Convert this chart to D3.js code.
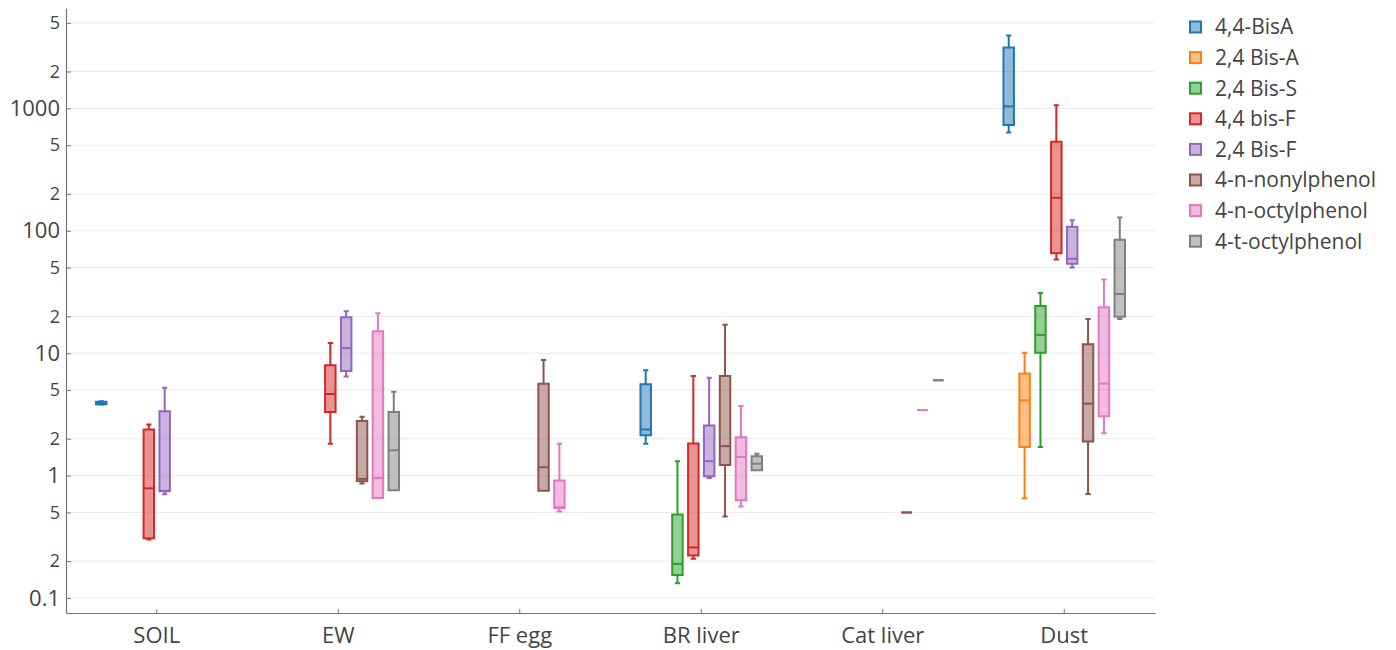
<!DOCTYPE html>
<html>
<head>
<meta charset="utf-8">
<script src="https://cdn.jsdelivr.net/npm/d3@7"></script>
<style>
  html, body { margin: 0; padding: 0; background: #fff; }
  svg { display: block; font-family: "Open Sans", "Noto Sans", sans-serif; }
</style>
</head>
<body>
<svg id="chart" width="1396" height="650"></svg>
<script>
// ---- data ----
const categories = ["SOIL", "EW", "FF egg", "BR liver", "Cat liver", "Dust"];
const seriesNames = ["4,4-BisA", "2,4 Bis-A", "2,4 Bis-S", "4,4 bis-F", "2,4 Bis-F", "4-n-nonylphenol", "4-n-octylphenol", "4-t-octylphenol"];

// each entry: [min, q1, median, q3, max] per category (null = no data)
const bisA44 = [[3.8, 3.83, 3.9, 4.02, 4.05], null, null, [1.82, 2.14, 2.38, 5.57, 7.26], null, [636, 730, 1038, 3143, 3945]];
const bisA24 = [null, null, null, null, null, [0.652, 1.71, 4.12, 6.82, 10.06]];
const bisS24 = [null, null, null, [0.132, 0.154, 0.19, 0.482, 1.31], null, [1.71, 10.1, 14.1, 24.3, 31.0]];
const bisF44 = [[0.30, 0.308, 0.787, 2.38, 2.62], [1.82, 3.30, 4.64, 7.97, 12.1], null, [0.209, 0.222, 0.259, 1.83, 6.52], null, [58.2, 65.6, 186, 533, 1059]];
const bisF24 = [[0.703, 0.744, 0.75, 3.35, 5.23], [6.44, 7.16, 11.0, 19.7, 22.0], null, [0.957, 0.987, 1.31, 2.57, 6.31], null, [50, 53.7, 59, 108, 122]];
const nonylN = [null, [0.86, 0.898, 0.94, 2.79, 3.03], [0.753, 0.753, 1.17, 5.64, 8.81], [0.464, 1.22, 1.74, 6.52, 17.1], [0.5, 0.5, 0.5, 0.5, 0.5], [0.708, 1.90, 3.87, 11.85, 19.0]];
const octylN = [null, [0.656, 0.656, 0.957, 15.1, 21.2], [0.51, 0.543, 0.55, 0.91, 1.82], [0.56, 0.628, 1.42, 2.06, 3.70], [3.43, 3.43, 3.43, 3.43, 3.43], [2.22, 3.06, 5.64, 23.7, 39.9]];
const octylT = [null, [0.758, 0.758, 1.61, 3.30, 4.85], null, [1.105, 1.105, 1.25, 1.44, 1.51], [6.0, 6.0, 6.0, 6.0, 6.0], [19.0, 19.8, 30.5, 84.4, 128.5]];

const seriesValues = [bisA44, bisA24, bisS24, bisF44, bisF24, nonylN, octylN, octylT];

const yTickValues = [0.1, 0.2, 0.5, 1, 2, 5, 10, 20, 50, 100, 200, 500, 1000, 2000, 5000];
const yMajorTicks = [0.1, 1, 10, 100, 1000];

// ---- styles ----
const colors = ["#1f77b4", "#ff7f0e", "#2ca02c", "#d62728", "#9467bd", "#8c564b", "#e377c2", "#7f7f7f"];

// ---- layout ----
const svg = d3.select("#chart");
const plot = { left: 66, right: 1155, top: 8, bottom: 613 };

const x = d3.scaleBand().domain(categories).range([plot.left, plot.right]).padding(0);
const xSub = d3.scaleBand().domain(seriesNames).range([0, x.bandwidth()])
  .paddingInner(0.34).paddingOuter(1.89);
const y = d3.scaleLog().domain([0.0754, 6607]).range([plot.bottom, plot.top]);

// gridlines
svg.append("g").selectAll("line").data(yTickValues).join("line")
  .attr("x1", plot.left).attr("x2", plot.right)
  .attr("y1", d => y(d)).attr("y2", d => y(d))
  .attr("stroke", "#ebebeb").attr("stroke-width", 1);

// boxes
const boxData = [];
seriesNames.forEach((s, si) => {
  seriesValues[si].forEach((v, ci) => {
    if (v) boxData.push({ s, si, c: categories[ci], v });
  });
});

const gBoxes = svg.append("g");
const bw = xSub.bandwidth();
boxData.forEach(d => {
  const x0 = x(d.c) + xSub(d.s);
  const x1 = x0 + bw;
  const xc = x0 + bw / 2;
  const cw = bw / 2;
  const [mn, q1, md, q3, mx] = d.v;
  const col = colors[d.si];
  const g = gBoxes.append("g");
  // whiskers
  const wp = d3.path();
  if (mx > q3) {
    wp.moveTo(xc, y(q3)); wp.lineTo(xc, y(mx));
    wp.moveTo(xc - cw / 2, y(mx)); wp.lineTo(xc + cw / 2, y(mx));
  }
  if (mn < q1) {
    wp.moveTo(xc, y(q1)); wp.lineTo(xc, y(mn));
    wp.moveTo(xc - cw / 2, y(mn)); wp.lineTo(xc + cw / 2, y(mn));
  }
  g.append("path").attr("d", wp.toString())
    .attr("fill", "none").attr("stroke", col).attr("stroke-width", 2);
  // box
  const bp = d3.path();
  bp.moveTo(x0, y(q3)); bp.lineTo(x1, y(q3)); bp.lineTo(x1, y(q1)); bp.lineTo(x0, y(q1)); bp.closePath();
  g.append("path").attr("d", bp.toString())
    .attr("fill", col).attr("fill-opacity", 0.5)
    .attr("stroke", col).attr("stroke-width", 2).attr("stroke-linejoin", "miter");
  // median
  g.append("line").attr("x1", x0).attr("x2", x1).attr("y1", y(md)).attr("y2", y(md))
    .attr("stroke", col).attr("stroke-width", 2);
});

// y axis
const yAxis = d3.axisLeft(y).tickValues(yTickValues).tickSize(0).tickPadding(6)
  .tickFormat(d => yMajorTicks.includes(d) ? String(d) : String(d / Math.pow(10, Math.floor(Math.log10(d) + 1e-9))));
const gy = svg.append("g").attr("transform", `translate(${plot.left},0)`).call(yAxis);
gy.select(".domain").attr("stroke", "#777").attr("stroke-width", 1.2);
gy.selectAll(".tick text")
  .attr("fill", "#444")
  .attr("font-size", d => yMajorTicks.includes(d) ? 22 : 18)
  .attr("font-family", "'Open Sans', sans-serif");
// inward ticks
gy.selectAll(".tick").append("line").attr("x1", 0).attr("x2", 5).attr("stroke", "#777").attr("stroke-width", 1);

// x axis
const xAxis = d3.axisBottom(x).tickSize(0).tickPadding(14);
const gx = svg.append("g").attr("transform", `translate(0,${plot.bottom})`).call(xAxis);
gx.select(".domain").attr("stroke", "#777").attr("stroke-width", 1.2);
gx.selectAll(".tick text").attr("fill", "#444").attr("font-size", 22)
  .attr("font-family", "'Open Sans', sans-serif");
gx.selectAll(".tick").append("line").attr("y1", 0).attr("y2", -4).attr("stroke", "#777").attr("stroke-width", 1);

// legend
const legend = svg.append("g").attr("transform", "translate(1189,27)");
const li = legend.selectAll("g").data(seriesNames).join("g")
  .attr("transform", (d, i) => `translate(0,${i * 30.6})`);
li.append("rect").attr("x", 1).attr("y", -5.5).attr("width", 11).attr("height", 11)
  .attr("fill", (d, i) => colors[i]).attr("fill-opacity", 0.5)
  .attr("stroke", (d, i) => colors[i]).attr("stroke-width", 2);
li.append("text").attr("x", 26).attr("y", 0).attr("dy", "0.35em")
  .attr("fill", "#444").attr("font-size", 21)
  .attr("font-family", "'Open Sans', sans-serif")
  .text(d => d);
</script>
</body>
</html>
